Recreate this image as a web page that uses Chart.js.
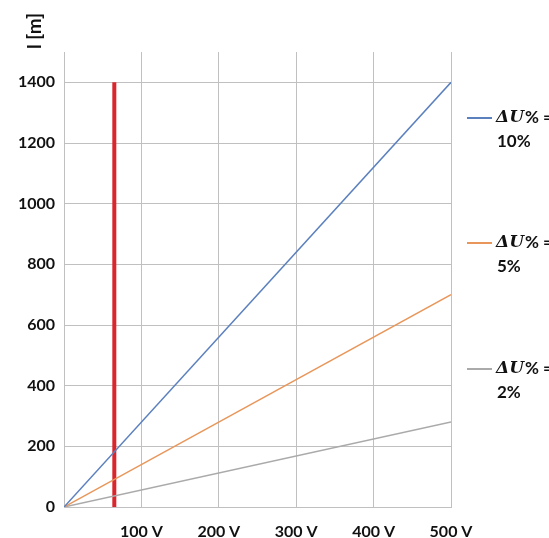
<!DOCTYPE html>
<html>
<head>
<meta charset="utf-8">
<script src="https://cdn.jsdelivr.net/npm/chart.js@4"></script>
<style>
  html, body { margin: 0; padding: 0; background: #fff; }
  #wrap { width: 549px; height: 538px; }
</style>
</head>
<body>
<div id="wrap"><canvas id="drop-chart"></canvas></div>
<script>
// voltage (V) and cable length l (m) for each voltage-drop limit
const VOLTAGE = [0, 500];
const LENGTH_10 = [0, 1400];
const LENGTH_5 = [0, 700];
const LENGTH_2 = [0, 280];
const LIMIT_V = [65, 65];
const LIMIT_L = [0, 1400];
const SERIES_LABELS = ['10%', '5%', '2%'];

const GRID = '#c0c0c0';
const FONT = 'Lato, "Open Sans", sans-serif';

function points(xs, ys) {
  return xs.map((x, i) => ({ x: x, y: ys[i] }));
}

// y axis title sitting above the plot, rotated
const axisTitle = {
  id: 'axisTitle',
  afterDraw(chart) {
    const c = chart.ctx;
    c.save();
    c.translate(35, 31);
    c.rotate(-Math.PI / 2);
    c.fillStyle = '#111';
    c.font = 'bold 19px ' + FONT;
    c.textAlign = 'center';
    c.textBaseline = 'middle';
    c.fillText('l [m]', 0, 0);
    c.restore();
  }
};

// legend on the right, two lines per entry
const sideLegend = {
  id: 'sideLegend',
  afterDraw(chart) {
    const c = chart.ctx;
    const tops = [118, 243, 369];
    c.save();
    chart.data.datasets.forEach((ds, i) => {
      if (!ds.legend) return;
      const y = tops[i];
      c.strokeStyle = ds.borderColor;
      c.lineWidth = 2;
      c.beginPath();
      c.moveTo(467, y);
      c.lineTo(492, y);
      c.stroke();
      c.fillStyle = '#111';
      c.textBaseline = 'middle';
      c.textAlign = 'left';
      c.font = 'bold italic 17px "DejaVu Serif", serif';
      c.fillText('ΔU', 496, y);
      const w = c.measureText('ΔU').width;
      c.font = 'bold 17px ' + FONT;
      c.fillText('% =', 497 + w, y);
      c.fillText(ds.legend, 497, y + 24);
    });
    c.restore();
  }
};

function addDropChart() {
  const ctx = document.getElementById('drop-chart');
  if (!ctx) {
    return;
  }

  const myChart = new Chart(ctx, {
    type: 'line',
    data: {
      datasets: [{
        label: SERIES_LABELS[0],
        legend: SERIES_LABELS[0],
        data: points(VOLTAGE, LENGTH_10),
        borderColor: '#5b80be',
        borderWidth: 1.5
      }, {
        label: SERIES_LABELS[1],
        legend: SERIES_LABELS[1],
        data: points(VOLTAGE, LENGTH_5),
        borderColor: '#e8965a',
        borderWidth: 1.5
      }, {
        label: SERIES_LABELS[2],
        legend: SERIES_LABELS[2],
        data: points(VOLTAGE, LENGTH_2),
        borderColor: '#aaaaaa',
        borderWidth: 1.5
      }, {
        label: 'limit',
        data: points(LIMIT_V, LIMIT_L),
        borderColor: '#d9262c',
        borderWidth: 4,
        borderCapStyle: 'butt'
      }]
    },
    options: {
      responsive: true,
      maintainAspectRatio: false,
      animation: false,
      elements: { point: { radius: 0 } },
      layout: { padding: { top: 52, right: 98, left: 0, bottom: 0 } },
      plugins: {
        legend: { display: false },
        tooltip: { enabled: false }
      },
      scales: {
        x: {
          type: 'linear',
          min: 0,
          max: 500,
          afterFit(scale) { scale.height = 31; },
          grid: { color: GRID, drawTicks: false },
          border: { color: GRID },
          ticks: {
            stepSize: 100,
            padding: 15,
            color: '#111',
            font: { family: FONT, size: 16, weight: 'bold' },
            callback: v => v === 0 ? '' : v + ' V'
          }
        },
        y: {
          min: 0,
          max: 1500,
          afterFit(scale) { scale.width = 64; },
          afterBuildTicks(scale) {
            scale.ticks = scale.ticks.filter(t => t.value <= 1400);
          },
          grid: { color: GRID, drawTicks: false },
          border: { color: GRID },
          ticks: {
            stepSize: 200,
            padding: 9,
            color: '#111',
            font: { family: FONT, size: 16, weight: 'bold' },
            callback: v => String(v)
          }
        }
      }
    },
    plugins: [axisTitle, sideLegend]
  });
}

addDropChart();
</script>
</body>
</html>
